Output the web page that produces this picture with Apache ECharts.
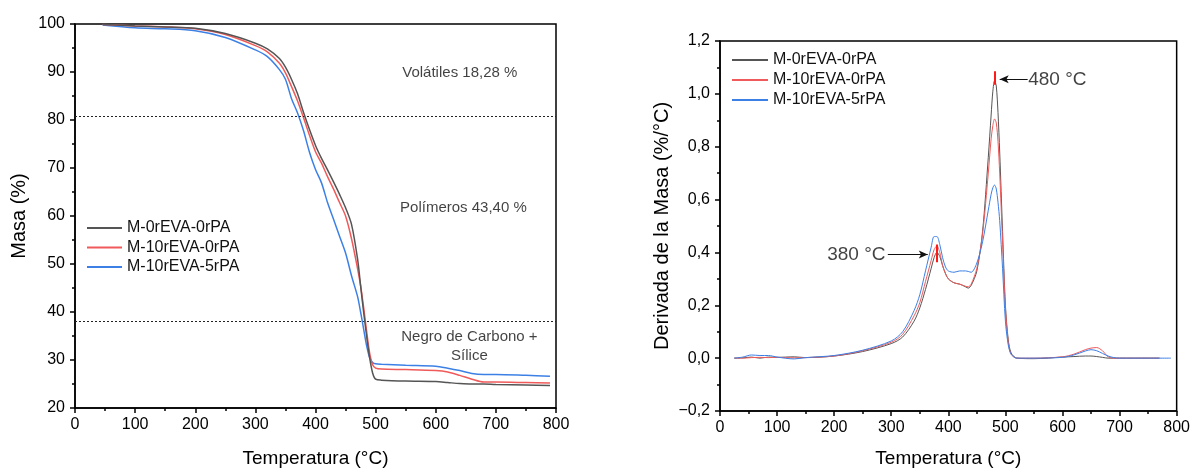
<!DOCTYPE html>
<html>
<head>
<meta charset="utf-8">
<script src="https://cdn.jsdelivr.net/npm/echarts@6/dist/echarts.min.js"></script>
<style>
html,body{margin:0;padding:0;background:#fff;}
#chart{width:1193px;height:473px;}
</style>
</head>
<body>
<div id="chart"></div>
<script>
// ---------- DATA ----------
var seriesNames = ['M-0rEVA-0rPA', 'M-10rEVA-0rPA', 'M-10rEVA-5rPA'];

// TGA (left)
var tgaTemp = [46, 100, 150, 200, 250, 300, 320, 340, 350, 360, 370, 380, 390, 400, 410, 420, 430, 440, 450, 460, 470, 475, 480, 485, 490, 495, 500, 510, 550, 600, 620, 640, 660, 680, 700, 750, 790];
var tgaBlack = [99.9, 99.6, 99.4, 99.1, 98.0, 96.0, 94.8, 92.8, 91.0, 88.5, 85.5, 81.6, 78.0, 74.7, 72.0, 69.6, 67.1, 64.5, 61.7, 58.2, 51.0, 45.5, 40.0, 35.0, 30.5, 27.3, 26.0, 25.8, 25.6, 25.5, 25.3, 25.1, 25.0, 25.0, 24.9, 24.8, 24.7];
var tgaRed = [99.9, 99.6, 99.4, 99.0, 97.8, 95.5, 94.2, 91.8, 89.8, 87.0, 84.0, 80.5, 76.8, 73.4, 71.0, 68.2, 65.6, 62.8, 60.0, 55.2, 49.0, 45.5, 41.0, 36.0, 31.5, 29.0, 28.3, 28.1, 28.0, 27.8, 27.5, 26.8, 26.0, 25.4, 25.4, 25.3, 25.2];
var tgaBlue = [99.8, 99.2, 99.0, 98.6, 97.2, 94.6, 93.2, 90.5, 88.5, 84.5, 81.5, 77.8, 73.3, 69.7, 66.9, 62.8, 59.3, 55.8, 52.3, 47.5, 43.2, 40.0, 36.5, 33.0, 30.5, 29.5, 29.2, 29.1, 28.9, 28.7, 28.3, 27.8, 27.2, 27.0, 27.0, 26.8, 26.6];
var tgaLevels = [80.7, 38.0];
var tgaNotes = ['Volátiles 18,28 %', 'Polímeros 43,40 %', 'Negro de Carbono +\nSílice'];
var tgaNoteX = [640, 646, 656];
var tgaNoteY = [89.9, 61.8, 32.9];

// DTG (right)
var dtgTemp = [25, 40, 55, 70, 85, 100, 130, 150, 200, 250, 300, 320, 340, 350, 360, 370, 375, 380, 385, 390, 395, 400, 410, 420, 430, 435, 440, 450, 460, 470, 475, 478, 481, 484, 487, 490, 495, 500, 505, 510, 520, 550, 600, 620, 640, 650, 660, 670, 680, 690, 700, 750, 770, 790];
var dtgBlack = [0, 0.001, 0.004, 0.0, 0.004, 0.003, 0.005, 0.002, 0.008, 0.025, 0.055, 0.08, 0.14, 0.19, 0.26, 0.34, 0.38, 0.40, 0.385, 0.35, 0.32, 0.30, 0.285, 0.28, 0.27, 0.265, 0.275, 0.33, 0.48, 0.76, 0.92, 1.01, 1.05, 1.03, 0.93, 0.78, 0.48, 0.20, 0.07, 0.02, 0.0, -0.002, 0.004, 0.006, 0.008, 0.008, 0.006, 0.003, 0.0, 0.0, 0.0, 0.0, 0.0, null];
var dtgRed = [0, 0.0, 0.002, 0.003, 0.002, 0.003, 0.001, 0.002, 0.008, 0.028, 0.06, 0.09, 0.16, 0.21, 0.29, 0.37, 0.41, 0.425, 0.40, 0.35, 0.32, 0.30, 0.285, 0.28, 0.272, 0.27, 0.28, 0.34, 0.47, 0.70, 0.83, 0.88, 0.905, 0.89, 0.82, 0.70, 0.44, 0.19, 0.06, 0.015, 0.0, 0.0, 0.005, 0.015, 0.032, 0.038, 0.04, 0.028, 0.005, 0.0, 0.0, 0.0, 0.0, null];
var dtgBlue = [0, 0.004, 0.012, 0.01, 0.01, 0.004, -0.003, 0.002, 0.01, 0.03, 0.065, 0.10, 0.18, 0.24, 0.33, 0.42, 0.46, 0.46, 0.43, 0.38, 0.345, 0.33, 0.325, 0.33, 0.33, 0.328, 0.325, 0.36, 0.44, 0.56, 0.62, 0.645, 0.655, 0.64, 0.59, 0.52, 0.34, 0.14, 0.05, 0.015, 0.0, 0.0, 0.003, 0.012, 0.027, 0.032, 0.028, 0.018, 0.008, 0.002, 0.0, 0.0, 0.0, 0.0];
var dtgPeakTexts = ['480 °C', '380 °C'];
var dtgPeakX = [482, 380];
var dtgPeakMarkLow = [1.034, 0.363];
var dtgPeakMarkHigh = [1.086, 0.430];
var dtgArrowFrom = [539, 294];
var dtgArrowTo = [490, 364];
var dtgArrowY = [1.055, 0.392];

// ---------- STYLE ----------
var colors = ['#555555', '#f05a5a', '#3c80e6'];
var FONT = 'Liberation Sans, Arial, sans-serif';

function pairs(xs, ys) {
  return xs.map(function (x, i) { return [x, ys[i]]; });
}
function axisCommonX(name, gap) {
  return {
    type: 'value', min: 0, max: 800, interval: 100,
    name: name, nameLocation: 'middle', nameGap: gap,
    nameTextStyle: { fontSize: 19, color: '#000', fontFamily: FONT },
    axisLine: { show: true, onZero: false, lineStyle: { color: '#000', width: 1.5 } },
    axisTick: { show: true, inside: false, length: 5, lineStyle: { color: '#000', width: 1.5 } },
    minorTick: { show: true, splitNumber: 2, length: 3, lineStyle: { color: '#000', width: 1.5 } },
    axisLabel: { fontSize: 16, color: '#000', margin: 9, fontFamily: FONT },
    splitLine: { show: false }
  };
}

var chart = echarts.init(document.getElementById('chart'), null, { renderer: 'canvas' });

var tgaLineData = [tgaBlack, tgaRed, tgaBlue];
var dtgLineData = [dtgBlack, dtgRed, dtgBlue];

var series = [];
seriesNames.forEach(function (n, i) {
  series.push({
    name: n, type: 'line', xAxisIndex: 0, yAxisIndex: 0,
    data: pairs(tgaTemp, tgaLineData[i]),
    symbol: 'none', smooth: 0.3,
    lineStyle: { color: colors[i], width: 1.5 }, itemStyle: { color: colors[i] },
    z: 5 - i
  });
});
seriesNames.forEach(function (n, i) {
  series.push({
    name: n, type: 'line', xAxisIndex: 1, yAxisIndex: 1,
    data: pairs(dtgTemp, dtgLineData[i]),
    symbol: 'none', smooth: 0.3,
    connectNulls: false,
    lineStyle: { color: colors[i], width: 1 }, itemStyle: { color: colors[i] },
    z: 3 + i
  });
});

// Left: dotted levels + notes
series.push({
  name: 'tgaNotes', type: 'scatter', xAxisIndex: 0, yAxisIndex: 0,
  symbolSize: 0, silent: true,
  data: tgaNotes.map(function (t, i) { return { value: [tgaNoteX[i], tgaNoteY[i]], text: t }; }),
  label: {
    show: true, position: 'inside', color: '#111', fontSize: 15, fontFamily: FONT,
    lineHeight: 19, align: 'center',
    formatter: function (p) { return p.data.text; }
  },
  markLine: {
    silent: true, symbol: 'none',
    lineStyle: { color: '#222', type: [2, 2], width: 1 },
    label: { show: false },
    data: tgaLevels.map(function (v) { return { yAxis: v }; })
  }
});

// Right: peak marks, arrows, texts
var rightMarks = [];
dtgPeakX.forEach(function (x, i) {
  rightMarks.push([
    { coord: [x, dtgPeakMarkLow[i]], symbol: 'none', lineStyle: { color: '#ff1a1a', width: 2, type: 'solid' } },
    { coord: [x, dtgPeakMarkHigh[i]], symbol: 'none' }
  ]);
  rightMarks.push([
    { coord: [dtgArrowFrom[i], dtgArrowY[i]], symbol: 'none', lineStyle: { color: '#111', width: 1, type: 'solid' } },
    { coord: [dtgArrowTo[i], dtgArrowY[i]], symbol: 'arrow', symbolSize: [6, 9] }
  ]);
});
series.push({
  name: 'dtgNotes', type: 'scatter', xAxisIndex: 1, yAxisIndex: 1,
  symbolSize: 0, silent: true,
  data: dtgPeakTexts.map(function (t, i) {
    var right = i === 0;
    return {
      value: [right ? dtgArrowFrom[i] + 1 : dtgArrowFrom[i] - 4, dtgArrowY[i]], text: t,
      label: { position: right ? 'right' : 'left', distance: 0 }
    };
  }),
  label: {
    show: true, color: '#111', fontSize: 19, fontFamily: FONT,
    formatter: function (p) { return p.data.text; }
  },
  markLine: {
    silent: true, symbol: 'none', label: { show: false },
    data: rightMarks
  },
  z: 10
});

var legendCommon = {
  data: seriesNames, orient: 'vertical', padding: 0,
  itemWidth: 35, itemHeight: 14, itemGap: 3.5,
  itemStyle: { opacity: 0 },
  textStyle: { fontSize: 16, color: '#111', fontFamily: FONT },
  selectedMode: false
};

var option = {
  animation: false,
  backgroundColor: '#fff',
  textStyle: { fontFamily: FONT },
  grid: [
    { left: 75, right: 637, top: 24, bottom: 60, show: true, borderColor: '#000', borderWidth: 1.5, backgroundColor: 'transparent', containLabel: false },
    { left: 720, right: 13, top: 41, bottom: 62, show: true, borderColor: '#000', borderWidth: 1.5, backgroundColor: 'transparent', containLabel: false }
  ],
  xAxis: [
    Object.assign(axisCommonX('Temperatura (°C)', 41), { gridIndex: 0 }),
    Object.assign(axisCommonX('Temperatura (°C)', 38), { gridIndex: 1 })
  ],
  yAxis: [
    {
      gridIndex: 0, type: 'value', min: 20, max: 100, interval: 10,
      name: 'Masa (%)', nameLocation: 'middle', nameGap: 46,
      nameTextStyle: { fontSize: 20, color: '#000', fontFamily: FONT },
      axisLine: { show: true, onZero: false, lineStyle: { color: '#000', width: 1.5 } },
      axisTick: { show: true, inside: false, length: 5, lineStyle: { color: '#000', width: 1.5 } },
      minorTick: { show: true, splitNumber: 2, length: 3, lineStyle: { color: '#000', width: 1.5 } },
      axisLabel: { fontSize: 16, color: '#000', margin: 10, fontFamily: FONT },
      splitLine: { show: false }
    },
    {
      gridIndex: 1, type: 'value', min: -0.2, max: 1.2, interval: 0.2,
      name: 'Derivada de la Masa (%/°C)', nameLocation: 'middle', nameGap: 48,
      nameTextStyle: { fontSize: 20, color: '#000', fontFamily: FONT },
      axisLine: { show: true, onZero: false, lineStyle: { color: '#000', width: 1.5 } },
      axisTick: { show: true, inside: false, length: 5, lineStyle: { color: '#000', width: 1.5 } },
      minorTick: { show: true, splitNumber: 2, length: 3, lineStyle: { color: '#000', width: 1.5 } },
      axisLabel: {
        fontSize: 16, color: '#000', margin: 10, fontFamily: FONT,
        formatter: function (v) {
          var s = Math.abs(v).toFixed(1).replace('.', ',');
          return (v < -1e-9 ? '\u2212' : '') + s;
        }
      },
      splitLine: { show: false }
    }
  ],
  legend: [
    Object.assign({}, legendCommon, { left: 86, top: 220 }),
    Object.assign({}, legendCommon, { left: 731, top: 52, itemWidth: 36, itemGap: 4 })
  ],
  series: series
};
chart.setOption(option);
</script>
</body>
</html>
